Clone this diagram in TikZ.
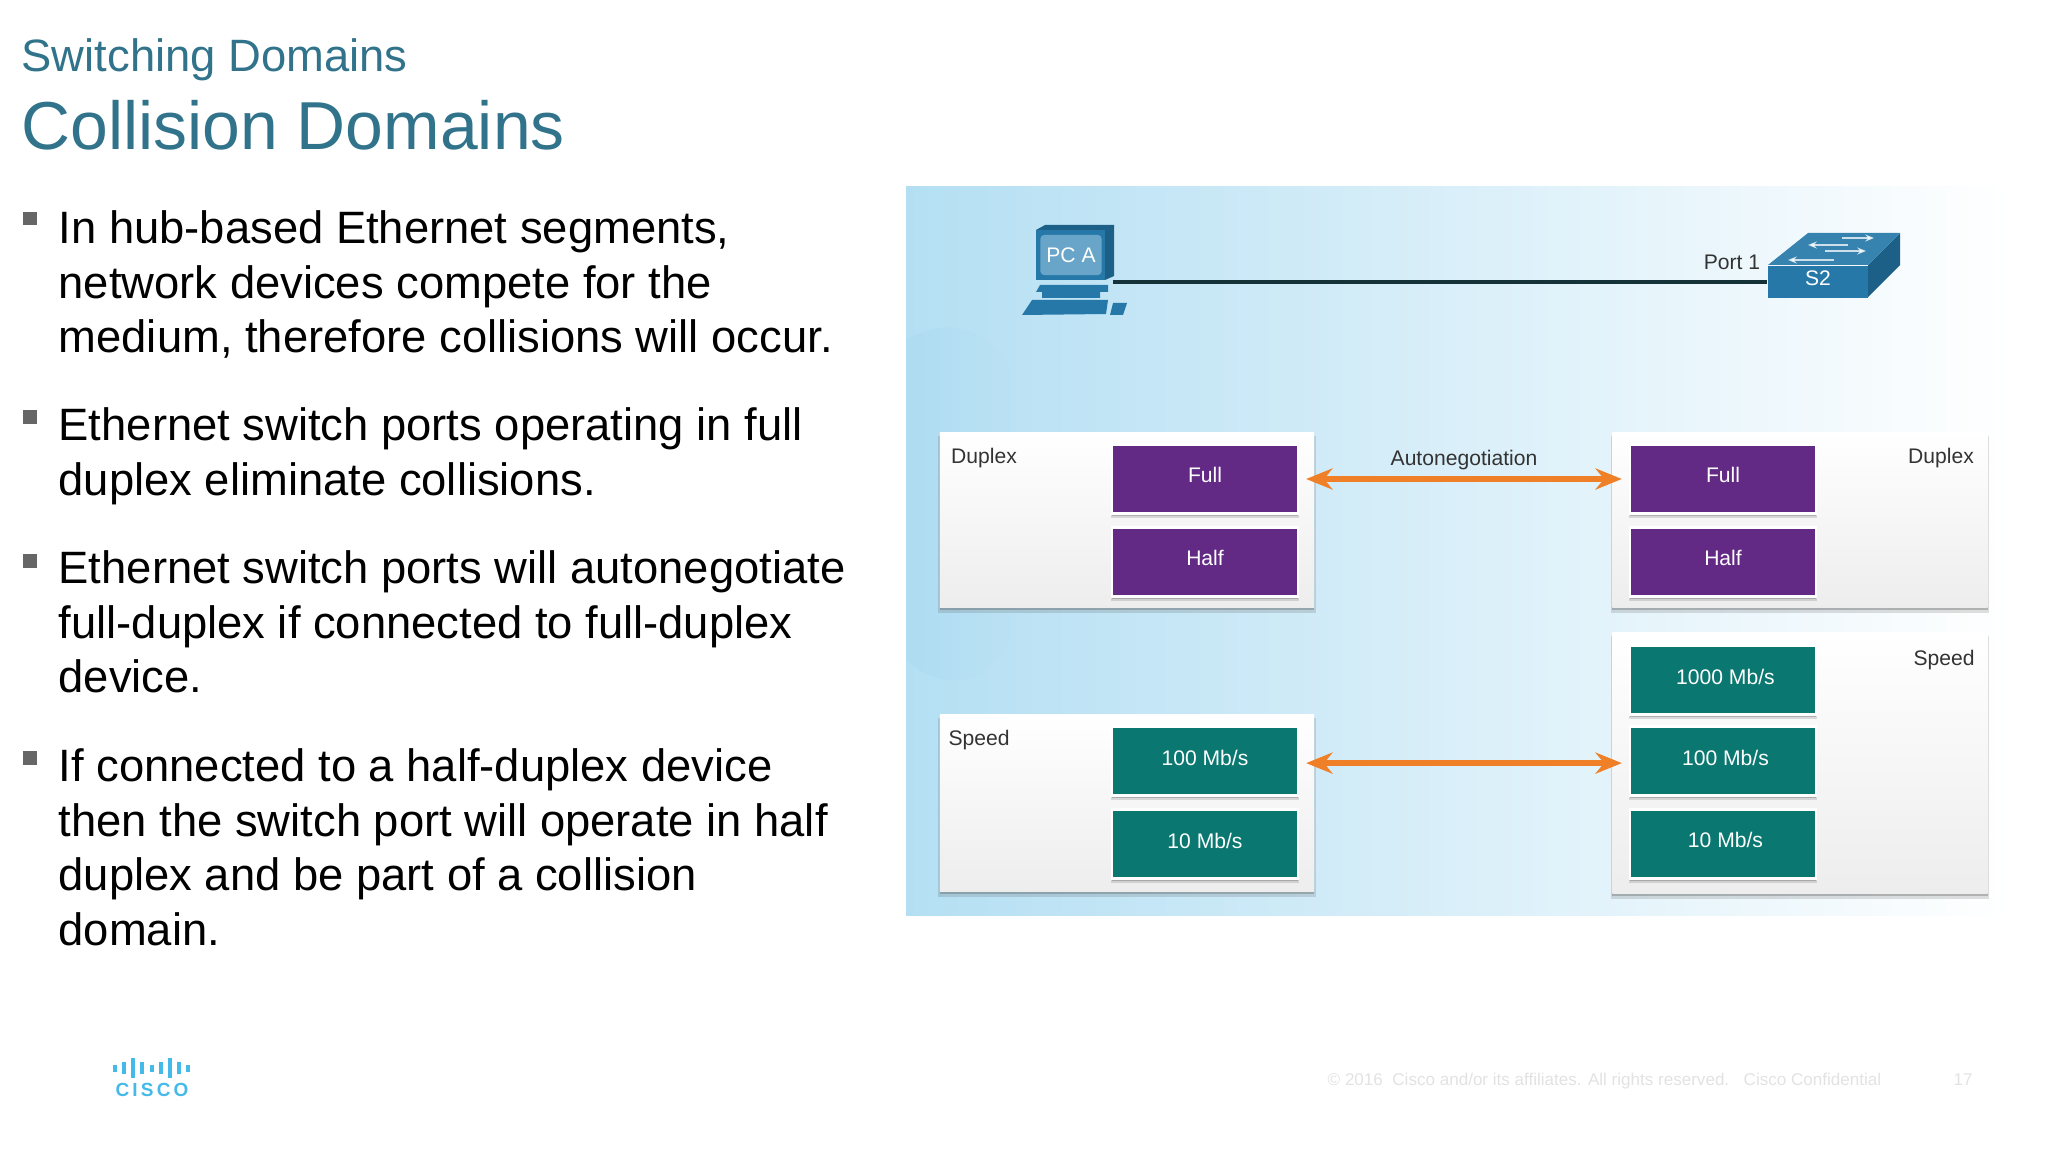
\documentclass[tikz,border=0pt]{standalone}
\usepackage{fontspec}
\setmainfont{Liberation Sans}
\usetikzlibrary{arrows.meta,shadows,fadings}
\definecolor{titleblue}{RGB}{50,115,140}
\definecolor{bgblue}{RGB}{180,223,243}
\definecolor{bgmid}{RGB}{208,234,247}
\definecolor{blobblue}{RGB}{150,208,236}
\definecolor{purplebox}{RGB}{98,42,133}
\definecolor{tealbox}{RGB}{10,120,112}
\definecolor{arroworange}{RGB}{240,128,40}
\definecolor{devblue}{RGB}{38,120,168}
\definecolor{devdark}{RGB}{28,95,135}
\definecolor{devlight}{RGB}{105,165,200}
\definecolor{linkdark}{RGB}{20,50,55}
\definecolor{logoblue}{RGB}{70,185,235}
\definecolor{footgrey}{RGB}{226,226,226}
\newcommand{\lab}[2][1.7pt]{\raisebox{#1}{\vphantom{/}#2}}
\tikzset{
	softshadow/.style={
		general shadow={shadow xshift=0pt,shadow yshift=-1.3pt,shadow scale=1.008,opacity=.18,fill=black!70},
		general shadow={shadow xshift=0pt,shadow yshift=-.7pt,opacity=.3,fill=black!70}},
	panel/.style={rectangle,top color=white,bottom color=black!7,inner sep=0pt,softshadow},
	valbox/.style={rectangle,draw=white,line width=.8pt,inner sep=0pt,text=white,softshadow,
		minimum width=1.86cm,minimum height=.69cm,font=\fontsize{6}{7}\selectfont},
	duplexbox/.style={valbox,fill=purplebox},
	speedbox/.style={valbox,fill=tealbox},
	small/.style={font=\fontsize{6}{7}\selectfont,text=black!80,inner sep=0pt},
	negarrow/.style={{Stealth[length=7.5pt,width=6pt]}-{Stealth[length=7.5pt,width=6pt]},
		arroworange,line width=1.6pt,shorten <=1.9pt,shorten >=1.9pt},
	swarrow/.style={-{Stealth[length=2.5pt,width=2pt]},white,opacity=.75,line width=.6pt},
}
\begin{document}
\begin{tikzpicture}[x=.01cm,y=-.01cm]
	\useasboundingbox (0,0) rectangle (2048,1152);
	% heading
	\node [anchor=west,inner sep=0pt,text=titleblue,font=\fontsize{12.9}{16}\selectfont] (subtitle) at (21,60) {Switching Domains};
	\node [anchor=west,inner sep=0pt,text=titleblue,font=\fontsize{19.3}{24}\selectfont] (title) at (21,125) {Collision Domains};
	% bullets
	\begin{scope}[every node/.style={rectangle,fill=black!60,inner sep=0pt,minimum size=.13cm}]
		\node (markA) at (30,219) {};
		\node (markB) at (30,417) {};
		\node (markC) at (30,561) {};
		\node (markD) at (30,758) {};
	\end{scope}
	\begin{scope}[every node/.style={anchor=north west,align=left,inner sep=0pt,font=\fontsize{12.9}{15.55}\selectfont}]
		\node (textA) at (58,210) {In hub-based Ethernet segments,\\network devices compete for the\\medium, therefore collisions will occur.};
		\node (textB) at (58,407) {Ethernet switch ports operating in full\\duplex eliminate collisions.};
		\node (textC) at (58,550) {Ethernet switch ports will autonegotiate\\full-duplex if connected to full-duplex\\device.};
		\node (textD) at (58,748) {If connected to a half-duplex device\\then the switch port will operate in half\\duplex and be part of a collision\\domain.};
	\end{scope}
	% background of the figure
	\shade [left color=bgblue,middle color=bgmid,right color=white] (906,187) rectangle (2012,915);
	\fill [blobblue,opacity=.18,path fading=east] (906,340) .. controls (940,320) and (985,320) .. (1010,370) -- (1010,640) .. controls (985,690) and (940,690) .. (906,660) -- cycle;
	% PC A
	\fill [devdark] (1036,230) -- (1045,225) -- (1114,225) -- (1114,276) -- (1105,280) -- cycle;
	\fill [devblue] (1036,230) rectangle (1105,280);
	\fill [devblue] (1040,285) -- (1108,285) -- (1108,292) -- (1100,292) -- (1100,298) -- (1042,298) -- (1042,292) -- (1036,292) -- cycle;
	\fill [devblue] (1022,315) -- (1032,300) -- (1108,300) -- (1106,314) -- cycle;
	\fill [devblue] (1110,315) -- (1113,303) -- (1127,303) -- (1123,315) -- cycle;
	\node [rectangle,rounded corners=1pt,fill=devlight,text=white,minimum width=.61cm,minimum height=.4cm,inner sep=0pt,font=\fontsize{6}{7}\selectfont] (pcA) at (1071,255) {PC A};
	\coordinate (pcPort) at (1113,282);
	% S2
	\fill [devdark] (1868,265) -- (1900,233) -- (1900,265) -- (1868,297) -- cycle;
	\fill [devblue!92!white] (1768,265) -- (1808,233) -- (1900,233) -- (1868,265) -- cycle;
	\draw [swarrow] (1842,238) -- (1874,238);
	\draw [swarrow] (1848,245) -- (1808,245);
	\draw [swarrow] (1825,251) -- (1866,251);
	\draw [swarrow] (1834,260) -- (1788,260);
	\node [rectangle,fill=devblue,text=white,minimum width=1cm,minimum height=.32cm,inner sep=0pt,font=\fontsize{6}{7}\selectfont] (switchS) at (1818,282) {\lab[2.4pt]{S2}};
	\draw [linkdark,line width=.9pt] (pcPort) -- (switchS.west);
	\node [small] (port) at (1732,262) {Port 1};
	% duplex panels
	\node [panel,minimum width=3.74cm,minimum height=1.75cm] (duplexL) at (1127,520) {};
	\node [panel,minimum width=3.75cm,minimum height=1.75cm] (duplexR) at (1800,520) {};
	\node [small] (duplexLtxt) at (984,458) {Duplex};
	\node [small] (duplexRtxt) at (1941,458) {Duplex};
	\node [duplexbox] (fullL) at (1205,479) {\lab[2.45pt]{Full}};
	\node [duplexbox] (halfL) at (1205,562) {\lab[2.45pt]{Half}};
	\node [duplexbox] (fullR) at (1723,479) {\lab[2.45pt]{Full}};
	\node [duplexbox] (halfR) at (1723,562) {\lab[2.45pt]{Half}};
	% speed panels
	\node [panel,minimum width=3.74cm,minimum height=1.77cm] (speedL) at (1127,803) {};
	\node [panel,minimum width=3.75cm,minimum height=2.61cm] (speedR) at (1800,763) {};
	\node [small] (speedLtxt) at (979,740) {Speed};
	\node [small] (speedRtxt) at (1944,660) {Speed};
	\node [speedbox] (hundredL) at (1205,761) {\lab{100 Mb/s}};
	\node [speedbox] (tenL) at (1205,844) {\lab{10 Mb/s}};
	\node [speedbox] (thousandR) at (1723,680) {\lab{\hspace{1.4pt}1000 Mb/s}};
	\node [speedbox] (hundredR) at (1723,761) {\lab{\hspace{1.4pt}100 Mb/s}};
	\node [speedbox] (tenR) at (1723,844) {\lab[2.1pt]{\hspace{1.4pt}10 Mb/s}};
	% autonegotiation
	\node [small] (auto) at (1464,460) {Autonegotiation};
	\path [negarrow] (fullL) edge (fullR);
	\path [negarrow] ([yshift=-.6pt]hundredL.east) edge ([yshift=-.6pt]hundredR.west);
	% logo
	\foreach \x/\h in {115/7,124/12,133/20,142/12,152/7,161/12,170/20,179/12,188/7}
		\draw [logoblue,line width=.9pt] (\x,1068-\h/2) -- (\x,1068+\h/2);
	\node [inner sep=0pt,text=logoblue,font=\fontsize{5.4}{6}\bfseries\selectfont] (logo) at (152,1090) {C\,I\,S\,C\,O};
	% footer
	\begin{scope}[every node/.style={anchor=base west,inner sep=0pt,text=footgrey,font=\fontsize{4.85}{6}\selectfont}]
		\node (copy) at (1327,1085) {© 2016\ \ Cisco and/or its affiliates. All rights reserved.};
		\node (conf) at (1743,1085) {Cisco Confidential};
		\node (page) at (1953,1085) {17};
	\end{scope}
\end{tikzpicture}
\end{document}
